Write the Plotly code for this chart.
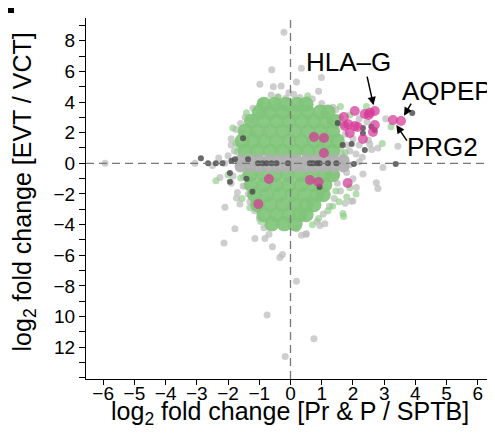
import plotly.graph_objects as go

# ---------------- data ----------------
# light grey genes (halo / outliers)
grey_x = [-0.21, -0.6, 0.35, -0.98, -0.55, -0.3, 0.19, 0.99, 0.9, -0.62, -0.15, 1.36,
          3.05, 3.44, 2.96, 2.75, 2.8, 2.32, 2.0, 2.54, -3.06, -5.94,
          -0.34, -0.26, 0.19, -0.75, 0.75, -0.17, -2.13, -0.82, -0.69, -0.58, 0.35, 0.49,
          -2.1, -1.78, -1.14, -1.62, -1.73, -1.52, -2.26, -1.84, 1.95, 2.11, 0.94, 1.1, 0.19, 0.51,
          -1.6, -1.75, -1.45, -1.2, -0.95, -1.65, -1.8, -2.0, -2.3, -1.9,
          1.45, 1.6, 1.7, 1.75, 1.8, 1.9, 2.1, 1.65, 1.0, 0.7,
          2.2, 2.45, 2.0, 2.2, 2.5, 2.6, 2.3, 2.8,
          1.45, 1.5, 1.6, 1.4, 1.25, 1.05, 0.85, 1.8, 2.0, 1.75,
          -1.5, -1.45, -1.35, -1.3, -1.15, -1.0, -0.85, -1.7, -1.9,
          -2.1, -2.5, 1.9, 2.2, -1.9, -1.55, -1.25, -0.99, -0.4, 0.1, 0.3, -0.05]
grey_y = [8.55, 6.1, 6.2, 5.15, 5.0, 5.05, 5.3, 5.6, 4.7, 4.45, 4.25, 3.65,
          2.9, 1.12, -0.28, -1.27, -1.65, -0.7, -2.45, 1.25, 0.0, 0.0,
          -6.15, -5.95, -7.7, -9.9, -11.45, -12.6, -5.2, -4.9, -4.62, -5.45, -4.7, -4.62,
          -2.87, -4.27, -4.9, -2.65, -2.27, -1.48, -0.93, -0.82, -2.48, -1.57, -4.06, -3.95, -4.27, -4.6,
          2.6, 2.2, 3.0, 3.6, 4.0, 1.0, 0.8, 0.5, 0.35, 1.2,
          3.5, 3.0, 2.5, 1.9, 1.2, 0.8, 0.6, 0.6, 3.9, 4.2,
          2.9, 2.7, 1.6, 1.2, 1.5, 0.9, 0.4, 1.0,
          -0.8, -1.3, -1.8, -2.3, -2.8, -3.3, -3.8, -0.6, -1.0, -2.6,
          -0.9, -1.5, -2.0, -2.5, -3.1, -3.6, -4.2, -1.9, -1.3,
          0.0, -0.15, -0.1, 0.1, 1.6, 2.0, 2.85, 3.3, 4.35, 4.5, 4.3, 4.6]

# light green scattered genes
lgreen_x = [-1.41, -0.93, -0.45, 0.53, 1.15, 2.43, 2.94, 3.22, -2.39, 1.68, 1.7, -1.24,
            1.9, 1.55, 1.8, -1.85, -1.6, 1.5, 1.9, 2.1, -1.55, 0.9, 1.2, -2.0, 1.6,
            -0.4, 0.55, 1.6, 1.75, -1.7, -1.75, 1.45, 1.35, -1.3, -0.95, 0.7]
lgreen_y = [3.3, 3.95, 3.95, 4.15, 3.3, 3.7, 1.3, 2.39, -1.13, -3.28, -3.47, 2.0,
            -1.6, -2.5, -2.2, 2.3, -0.95, 2.95, 3.15, -2.0, -2.3, -3.6, -3.1, -0.75, 3.7,
            4.3, 4.4, 1.0, 0.7, 0.75, 1.3, -1.8, -2.8, -2.9, -3.8, -4.0]

# dense green core genes
green_x = [-1.45, -1.05, -0.65, -0.25, 0.15, 0.55, 0.95, 1.35,
           -1.55, -1.2, -0.85, -0.45, -0.05, 0.35, 0.75, 1.15, 1.5,
           -1.45, -1.05, -0.65, -0.25, 0.15, 0.55, 0.95, 1.35,
           -1.25, -0.85, -0.45, -0.05, 0.35, 0.75, 1.15, 1.4,
           -1.0, -0.65, -0.25, 0.15, 0.55, 0.95, 1.2,
           -0.85, -0.5, -0.15, 0.2, 0.5,
           -1.3, -0.9, -0.5, -0.1, 0.3, 0.7, 1.1, 1.35,
           -1.25, -0.85, -0.45, -0.05, 0.35, 0.75, 1.1,
           -1.15, -0.75, -0.35, 0.05, 0.45, 0.85, 1.05,
           -1.05, -0.65, -0.25, 0.15, 0.5, 0.75,
           -0.85, -0.45, -0.05, 0.3, 0.5,
           -0.6, -0.2, 0.15]
green_y = [0.8, 0.8, 0.8, 0.8, 0.8, 0.8, 0.8, 0.8,
           1.45, 1.45, 1.45, 1.45, 1.45, 1.45, 1.45, 1.45, 1.45,
           2.1, 2.1, 2.1, 2.1, 2.1, 2.1, 2.1, 2.1,
           2.75, 2.75, 2.75, 2.75, 2.75, 2.75, 2.75, 2.75,
           3.35, 3.35, 3.35, 3.35, 3.35, 3.35, 3.35,
           3.85, 3.85, 3.85, 3.85, 3.85,
           -0.75, -0.75, -0.75, -0.75, -0.75, -0.75, -0.75, -0.75,
           -1.4, -1.4, -1.4, -1.4, -1.4, -1.4, -1.4,
           -2.05, -2.05, -2.05, -2.05, -2.05, -2.05, -2.05,
           -2.7, -2.7, -2.7, -2.7, -2.7, -2.7,
           -3.35, -3.35, -3.35, -3.35, -3.35,
           -3.95, -3.95, -3.95]

# grey band of genes close to zero on the y axis
band_x = [-1.6, -1.3, -1.0, -0.7, -0.4, -0.1, 0.2, 0.5, 0.8, 1.1, 1.4, 1.7,
          -1.6, -1.3, -1.0, -0.7, -0.4, -0.1, 0.2, 0.5, 0.8, 1.1, 1.4, 1.7]
band_y = [0.2, 0.2, 0.2, 0.2, 0.2, 0.2, 0.2, 0.2, 0.2, 0.2, 0.2, 0.2,
          -0.2, -0.2, -0.2, -0.2, -0.2, -0.2, -0.2, -0.2, -0.2, -0.2, -0.2, -0.2]

# dark grey genes
dark_x = [-2.87, -2.64, -2.39, -2.18, -1.89, -1.78, -1.36, -1.04, -0.9, -0.77, -0.61, -0.45,
          -0.08, 0.62, 0.72, 0.85, 0.93, 1.2, 1.47, 2.03, 3.37, -1.52, -1.94, -1.41, -1.22,
          1.51, 1.67, 1.96, 2.32, 2.38, 3.9, 0.93, 2.59, 2.69, 2.32, -1.94]
dark_y = [0.33, 0.0, 0.0, 0.0, 0.17, 0.26, 0.26, 0.0, 0.0, 0.0, 0.0, 0.0,
          0.0, 0.0, 0.0, 0.0, 0.0, 0.0, 0.0, -0.05, -0.05, 1.63, -0.63, -1.0, -1.85,
          2.63, 1.19, 1.26, 2.3, 0.87, 3.28, -1.55, 2.39, 2.17, 1.96, -1.2]

# highlighted (magenta) genes
hl_x = [2.06, 2.38, 2.55, 2.70, 2.5, 1.71, 1.74, 1.85, 2.06, 2.15, 1.90, 2.70, 2.64, 2.32,
        3.28, 3.54, 0.75, 1.07, 1.07, -0.69, 0.62, 0.90, 1.83, -1.03]
hl_y = [3.41, 3.22, 3.30, 3.41, 3.15, 3.02, 2.43, 2.55, 2.43, 2.37, 1.98, 2.50, 2.04, 1.59,
        2.82, 2.76, 1.72, 1.65, 0.67, -1.02, -1.09, -1.22, -1.28, -2.66]

labels = ["HLA–G", "AQPEP", "PRG2"]
label_idx = [3, 15, 14]   # index into hl_x / hl_y

x_ticks = [-6, -5, -4, -3, -2, -1, 0, 1, 2, 3, 4, 5, 6]
x_ticktext = ["−6", "−5", "−4", "−3", "−2", "−1", "0", "1", "2", "3", "4", "5", "6"]
y_ticks = [-12, -10, -8, -6, -4, -2, 0, 2, 4, 6, 8]
y_ticktext = ["12", "10", "−8", "−6", "−4", "−2", "0", "2", "4", "6", "8"]

x_title = "log<sub>2</sub> fold change [Pr &amp; P / SPTB]"
y_title = "log<sub>2</sub> fold change [EVT / VCT]"

# ---------------- figure ----------------
FONT = "Liberation Sans, Arial, Helvetica, sans-serif"
fig = go.Figure()

def add(x, y, color, size):
    fig.add_trace(go.Scatter(x=x, y=y, mode="markers", hoverinfo="skip",
                             marker=dict(color=color, size=size, line=dict(width=0))))

add(grey_x, grey_y, "rgba(190,190,190,0.75)", 7)
add(lgreen_x, lgreen_y, "rgba(140,205,132,0.65)", 7)
add(green_x, green_y, "rgba(128,196,122,0.92)", 15)
add(band_x, band_y, "rgba(176,176,176,0.95)", 12)
add(dark_x, dark_y, "rgba(80,80,80,0.85)", 6)
add(hl_x, hl_y, "rgba(214,55,150,0.72)", 10)

# the page body adds an 8px offset; the figure is sized to fill the rest
fig.update_layout(
    width=487, height=427,
    margin=dict(l=78, r=0, t=10, b=56, autoexpand=False),
    paper_bgcolor="white", plot_bgcolor="white",
    showlegend=False,
    font=dict(family=FONT, color="black"),
)
fig.update_xaxes(
    range=[-6.55, 6.55], tickvals=x_ticks, ticktext=x_ticktext,
    ticks="outside", ticklen=5, tickwidth=1, tickcolor="black",
    showline=True, linecolor="black", linewidth=1,
    showgrid=False, zeroline=False, automargin=False,
    ticklabelstandoff=-8,
    tickfont=dict(size=19, family=FONT),
)
fig.update_yaxes(
    range=[-14.07, 9.48], tickvals=y_ticks, ticktext=y_ticktext,
    ticks="outside", ticklen=6, tickwidth=1, tickcolor="black",
    minor=dict(dtick=1, tick0=0, ticks="outside", ticklen=6, tickcolor="black", showgrid=False),
    showline=True, linecolor="black", linewidth=1,
    showgrid=False, zeroline=False, automargin=False,
    tickfont=dict(size=19, family=FONT),
)

# axis titles
fig.add_annotation(x=0.4988, y=-0.094, xref="paper", yref="paper", text=x_title,
                   showarrow=False, xanchor="center", yanchor="middle",
                   font=dict(size=25, family=FONT, color="black"))
fig.add_annotation(x=-0.152, y=0.519, xref="paper", yref="paper", text=y_title,
                   showarrow=False, xanchor="center", yanchor="middle", textangle=-90,
                   font=dict(size=25, family=FONT, color="black"))

# dashed reference lines
fig.add_shape(type="line", xref="x", yref="paper", x0=0, x1=0, y0=0, y1=1,
              line=dict(color="rgb(120,120,120)", width=1.3, dash="8px,5px"), layer="above")
fig.add_shape(type="line", xref="paper", yref="y", x0=0, x1=1, y0=0, y1=0,
              line=dict(color="rgb(120,120,120)", width=1.3, dash="8px,5px"), layer="above")

# panel letter fragment at top-left corner
fig.add_shape(type="rect", xref="paper", yref="paper", x0=-0.1907, x1=-0.176, y0=1.0139, y1=1.0277,
              line=dict(width=0), fillcolor="black")

# labels with arrows
text_pos = [(1.87, 6.6), (5.0, 4.7), (4.88, 1.05)]
arrow_tail = [(-8, -36), (11, -19), (15, 22)]
for lab, i, (tx, ty), (ax, ay) in zip(labels, label_idx, text_pos, arrow_tail):
    fig.add_annotation(x=tx, y=ty, xref="x", yref="y", text=lab, showarrow=False,
                       font=dict(size=26, family=FONT, color="black"))
    fig.add_annotation(x=hl_x[i], y=hl_y[i], xref="x", yref="y", text="",
                       showarrow=True, ax=ax, ay=ay, arrowhead=2, arrowsize=1.1,
                       arrowwidth=1.5, arrowcolor="black", standoff=6)

fig.write_html("out.html")
